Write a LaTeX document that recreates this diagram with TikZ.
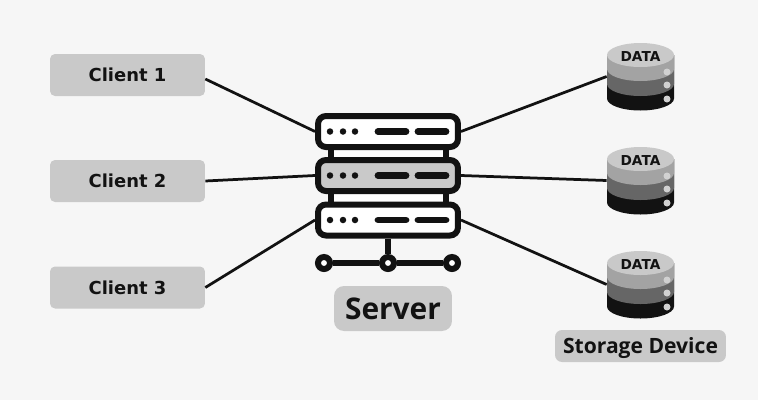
\documentclass[tikz,border=0pt]{standalone}
\usepackage{fontspec}
\setmainfont{Open Sans}
\newfontfamily\widefont{DejaVu Sans}
\usetikzlibrary{positioning,calc}
\definecolor{pagebg}{HTML}{F6F6F6}
\definecolor{boxgray}{HTML}{C9C9C9}
\definecolor{inkblack}{HTML}{121212}
\tikzset{
clientbox/.style={rectangle,rounded corners=0.1cm,fill=boxgray,text=inkblack,inner sep=0pt,
  minimum width=3.1cm,minimum height=0.84cm,align=center,font=\widefont\fontsize{10.2}{12}\selectfont\bfseries},
labelbox/.style={rectangle,rounded corners=0.2cm,fill=boxgray,text=inkblack,inner sep=0pt,align=center},
srvunit/.style={rectangle,rounded corners=0.16cm,draw=inkblack,line width=0.12cm,fill=white,inner sep=0pt,
  minimum width=2.8cm,minimum height=0.62cm},
dbbody/.style={rectangle,inner sep=0pt,minimum width=1.34cm,minimum height=1.34cm},
wire/.style={draw=inkblack,line width=0.055cm},
thickbar/.style={draw=inkblack,line width=0.11cm},
joint/.style={circle,draw=inkblack,line width=0.12cm,fill=white,inner sep=0pt,minimum size=0.24cm}
}
\begin{document}
\begin{tikzpicture}[x=0.02cm,y=-0.02cm]
\fill[pagebg] (0,0) rectangle (758,400);
% clients
\node[clientbox] (client1) at (127.5,75) {Client 1};
\node[clientbox] (client2) at (127.5,181) {Client 2};
\node[clientbox] (client3) at (127.5,287.5) {Client 3};
% rack
\fill[white] (331,150) rectangle (446,157);
\fill[white] (331,194) rectangle (446,202);
\draw[thickbar] (331,150) -- (331,157) (446,150) -- (446,157) (331,194) -- (331,202) (446,194) -- (446,202);
\node[srvunit] (srv1) at (388,131.5) {};
\node[srvunit,fill=boxgray] (srv2) at (388,175.5) {};
\node[srvunit] (srv3) at (388,220) {};
\foreach \n in {1,2,3} {
  \foreach \dx in {-58,-45,-33} \fill[inkblack] ($(srv\n.center)+(\dx,0)$) circle (0.065cm);
  \draw[thickbar,line width=0.135cm,line cap=round] ($(srv\n.center)+(-10,0)$) -- ($(srv\n.center)+(18,0)$);
  \draw[thickbar,line width=0.135cm,line cap=round] ($(srv\n.center)+(30,0)$) -- ($(srv\n.center)+(58,0)$);
}
% bus below the rack
\node[joint] (busL) at (324,263) {};
\node[joint] (busM) at (388,263) {};
\node[joint] (busR) at (452,263) {};
\draw[thickbar] (srv3.south) -- (busM);
\draw[thickbar] (busL) -- (busM);
\draw[thickbar] (busM) -- (busR);
\node[labelbox,minimum width=2.36cm,minimum height=0.9cm,font=\fontsize{17}{20}\selectfont\bfseries] (server) at (393,308.5) {Server};
% storage
\node[dbbody] (db1) at (640.5,76.5) {};
\node[dbbody] (db2) at (640.5,180.5) {};
\node[dbbody] (db3) at (640.5,284.5) {};
\foreach \n in {1,2,3} {
  \begin{scope}[shift={(db\n.center)}]
  \foreach \low/\tone in {22/inkblack,7.5/black!60,-7.5/black!36} {
    \fill[\tone] (-33.5,\low) -- (-33.5,-21.5) -- (33.5,-21.5) -- (33.5,\low) arc[start angle=0,end angle=-180,x radius=0.67cm,y radius=0.24cm] -- cycle;
  }
  \fill[boxgray] (0,-21.5) ellipse (0.67cm and 0.24cm);
  \foreach \dy in {-4.5,8.5,22.5} \fill[black!18] (26.5,\dy) circle (0.07cm);
  \node[font=\widefont\fontsize{7.8}{9}\selectfont\bfseries,text=inkblack,inner sep=0pt] (dbtext\n) at (0,-20.5) {DATA};
  \end{scope}
}
\node[labelbox,rounded corners=0.14cm,minimum width=3.42cm,minimum height=0.64cm,text height=0.3cm,text depth=0pt,font=\fontsize{12}{14}\selectfont\bfseries] (storage) at (640.5,346) {Storage Device};
% connectors
\draw[wire] ([yshift=-0.08cm]client1.east) -- (srv1.west);
\draw[wire] (client2.east) -- (srv2.west);
\draw[wire] (client3.east) -- (srv3.west);
\foreach \n in {1,2,3} \draw[wire] (srv\n.east) -- (db\n.west);
\end{tikzpicture}
\end{document}
